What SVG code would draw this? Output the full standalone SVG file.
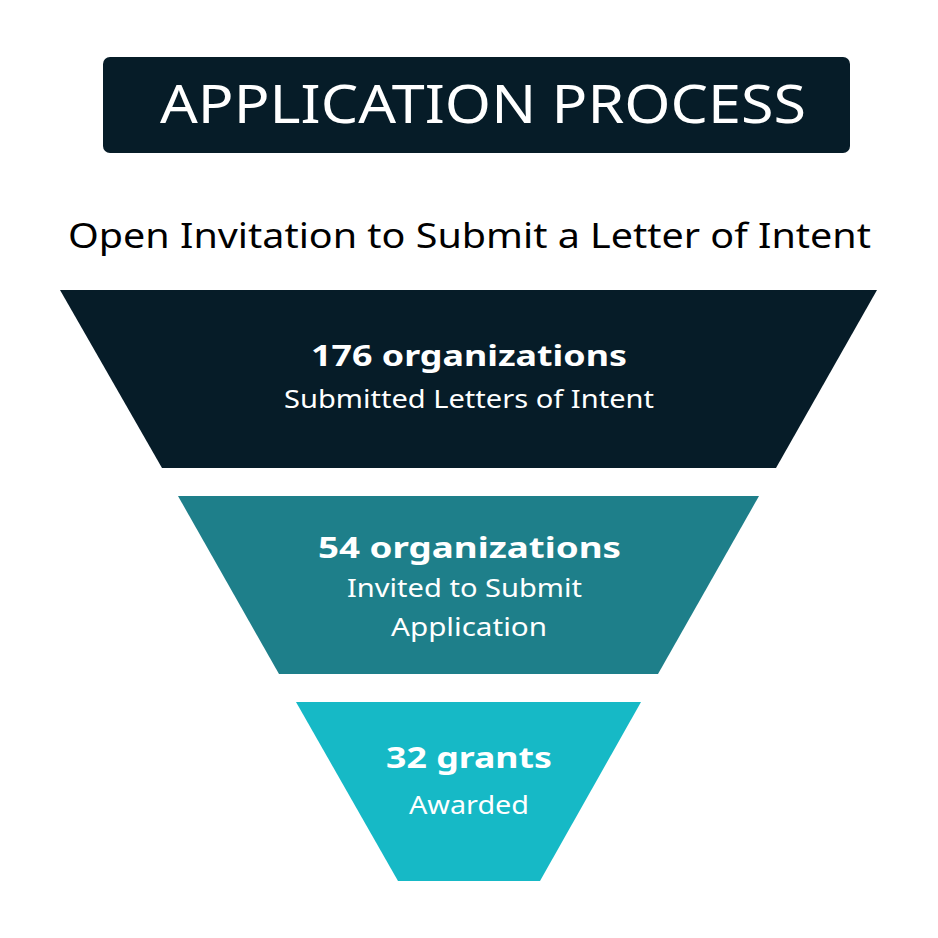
<svg xmlns="http://www.w3.org/2000/svg" width="938" height="938" viewBox="0 0 938 938">
<style>
.t{font-family:"Noto Sans","Liberation Sans",sans-serif;text-anchor:middle;fill:#ffffff}
.b{font-weight:bold}
.dark{fill:#061c28}
</style>
<rect width="938" height="938" fill="#ffffff"/>
<g id="title">
<rect x="103" y="57" width="747" height="96" rx="7" class="dark"/>
<text class="t" x="483" y="123" font-size="53" textLength="646" lengthAdjust="spacingAndGlyphs">APPLICATION PROCESS</text>
</g>
<g id="subtitle">
<text class="t" x="469.5" y="248" font-size="35" fill="#000" style="fill:#000" textLength="803" lengthAdjust="spacingAndGlyphs">Open Invitation to Submit a Letter of Intent</text>
</g>
<g id="stage1">
<polygon points="60,290 877,290 776,468 162,468" class="dark"/>
<text class="t b" x="469" y="366" font-size="29" textLength="316" lengthAdjust="spacingAndGlyphs">176 organizations</text>
<text class="t" x="469" y="408" font-size="25" textLength="370" lengthAdjust="spacingAndGlyphs">Submitted Letters of Intent</text>
</g>
<g id="stage2">
<polygon points="178,496 759,496 658,674 279,674" fill="#1e7f8a"/>
<text class="t b" x="469.5" y="558" font-size="29" textLength="303" lengthAdjust="spacingAndGlyphs">54 organizations</text>
<text class="t" x="464.5" y="597" font-size="25" textLength="235" lengthAdjust="spacingAndGlyphs">Invited to Submit</text>
<text class="t" x="469" y="636" font-size="25" textLength="156" lengthAdjust="spacingAndGlyphs">Application</text>
</g>
<g id="stage3">
<polygon points="296,702 641,702 540,881 398,881" fill="#16b9c6"/>
<text class="t b" x="469" y="768" font-size="29" textLength="166" lengthAdjust="spacingAndGlyphs">32 grants</text>
<text class="t" x="469" y="814" font-size="25" textLength="120" lengthAdjust="spacingAndGlyphs">Awarded</text>
</g>
<g id="connectors"/>
</svg>
